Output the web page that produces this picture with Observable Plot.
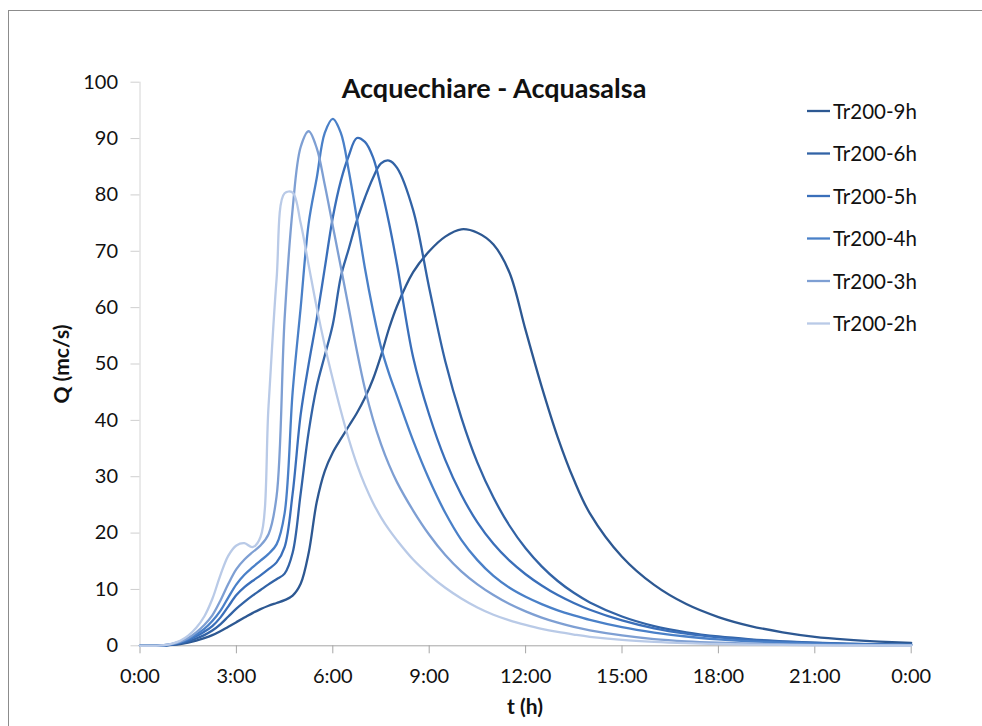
<!DOCTYPE html>
<html>
<head>
<meta charset="utf-8">
<script src="https://cdn.jsdelivr.net/npm/d3@7"></script>
<script src="https://cdn.jsdelivr.net/npm/@observablehq/plot@0.6"></script>
<style>
  html, body { margin: 0; padding: 0; background: #fff; overflow: hidden; }
  #wrap { position: relative; width: 982px; height: 726px; overflow: hidden; font-family: Lato, "Open Sans", sans-serif; }
  #frame { position: absolute; left: 8px; top: 10px; width: 1000px; height: 760px; border: 1px solid #8c8c8c; box-sizing: border-box; }
  #chart, #overlay { position: absolute; left: 0; top: 0; }
  #chart svg { font-family: Lato, "Open Sans", sans-serif; }
</style>
</head>
<body>
<div id="wrap">
  <div id="frame"></div>
  <div id="chart"></div>
  <svg id="overlay" width="982" height="726"></svg>
</div>
<script>
// Time (hours from start of event)
const hours = [0,0.25,0.5,0.75,1,1.25,1.5,1.75,2,2.25,2.5,2.75,3,3.25,3.5,3.75,4,4.25,4.5,4.75,5,5.25,5.5,5.75,6,6.25,6.5,6.75,7,7.25,7.5,7.75,8,
  8.5,9,9.5,10,10.5,11,11.5,12,12.5,13,13.5,14,
  15,16,17,18,19,20,21,22,23,24];

// Discharge Q (mc/s) for each design storm duration, return period 200 years
const q9h = [0,0,0,0.05,0.15,0.3,0.55,0.9,1.35,1.9,2.6,3.4,4.2,5.0,5.8,6.5,7.1,7.6,8.1,8.9,11,16.5,25.5,31,34.3,36.7,39,41.3,44,47.3,51.5,56.3,60.3,
  66.3,70,72.6,73.9,73.3,71.2,66.2,56,46,37,29.5,23.5,
  15.8,10.8,7.4,5.1,3.5,2.4,1.6,1.1,0.75,0.5];
const q6h = [0,0,0,0.05,0.2,0.45,0.8,1.3,1.9,2.7,3.8,5.2,6.6,7.8,8.9,9.9,10.9,11.8,12.8,16.5,27,38,46,51.5,57,65.5,70.5,75.5,79.5,83,85.6,86.1,84.8,
  77.3,63.5,50.5,40.5,32.5,26.3,21.3,17.3,14.1,11.5,9.4,7.7,
  5.2,3.5,2.4,1.65,1.15,0.8,0.55,0.4,0.28,0.2];
const q5h = [0,0,0,0.05,0.25,0.55,1.0,1.7,2.5,3.5,5.0,7.0,9.0,10.4,11.5,12.5,13.6,14.8,17.5,27,41,50,58,67,76,82.5,87,90.1,89.4,86.7,81.4,75,67.6,
  51.2,41,33,26.8,21.9,18.1,15.1,12.7,10.7,9.0,7.6,6.4,
  4.5,3.1,2.15,1.5,1.05,0.72,0.5,0.35,0.25,0.18];
const q4h = [0,0,0,0.1,0.3,0.65,1.2,2.0,3.0,4.4,6.2,8.6,10.9,12.6,13.9,15.1,16.3,18.0,23.5,45,60,75,83,91,93.5,91,84.2,75.8,67,59.5,53,48.3,44.3,
  36.4,29.5,23.6,18.8,15.2,12.4,10.3,8.7,7.4,6.3,5.4,4.6,
  3.3,2.35,1.65,1.15,0.8,0.55,0.4,0.28,0.2,0.15];
const q3h = [0,0,0,0.1,0.35,0.75,1.4,2.4,3.7,5.4,8.0,11.0,13.6,15.3,16.6,17.8,19.8,26.5,58,77.5,88.5,91.3,88.3,81.8,74.5,67.2,59.8,52.3,45.6,40.2,35.8,32.1,29.0,
  24.0,19.7,16.1,13.2,10.9,9.0,7.4,6.1,5.0,4.1,3.35,2.75,
  1.85,1.2,0.8,0.55,0.38,0.26,0.18,0.13,0.1,0.08];
const q2h = [0,0,0,0.1,0.4,0.9,1.8,3.2,5.2,8.3,12.5,16.0,17.8,18.2,17.5,19.3,42.5,65,80.3,80.4,75,67.5,60,53.3,47.3,41.7,36.6,32.2,28.5,25.4,22.8,20.6,18.7,
  15.3,12.6,10.3,8.4,6.8,5.5,4.5,3.7,3.0,2.45,2.0,1.6,
  1.05,0.7,0.47,0.32,0.22,0.15,0.1,0.08,0.06,0.05];

const seriesNames = ["Tr200-9h", "Tr200-6h", "Tr200-5h", "Tr200-4h", "Tr200-3h", "Tr200-2h"];
const seriesValues = [q9h, q6h, q5h, q4h, q3h, q2h];
const seriesColors = ["#2d5892", "#3263a6", "#3a6fba", "#4a80c8", "#7e9fd3", "#b9cae7"];

const yTicks = [0, 10, 20, 30, 40, 50, 60, 70, 80, 90, 100];
const xTicks = [0, 3, 6, 9, 12, 15, 18, 21, 24];

const titleText = "Acquechiare - Acquasalsa";
const xLabel = "t (h)";
const yLabel = "Q (mc/s)";

// Long-format rows for the line mark
const rows = seriesNames.flatMap((name, i) =>
  hours.map((t, j) => ({ series: name, t, q: seriesValues[i][j] }))
);

const chart = Plot.plot({
  width: 982,
  height: 726,
  marginLeft: 139.5,
  marginRight: 71.3,
  marginTop: 81.7,
  marginBottom: 80.7,
  style: { background: "transparent", color: "#111" },
  x: { domain: [0, 24] },
  y: { domain: [0, 100] },
  color: { domain: seriesNames, range: seriesColors },
  marks: [
    Plot.ruleX([0], { stroke: "#d4d4d4", strokeWidth: 1 }),
    Plot.axisY({
      ticks: yTicks, tickSize: 9, tickPadding: 13, fontSize: 20,
      stroke: "#cfcfcf", fill: "#111", label: null
    }),
    Plot.axisX({
      ticks: xTicks, tickSize: 8, tickPadding: 15, fontSize: 20,
      tickFormat: h => `${h % 24}:00`,
      stroke: "#a6a6a6", fill: "#111", label: null
    }),
    Plot.ruleY([0], { stroke: "#a6a6a6", strokeWidth: 1 }),
    Plot.line(rows, {
      x: "t", y: "q", z: "series", stroke: "series",
      strokeWidth: 2.3, curve: "catmull-rom"
    })
  ]
});
document.getElementById("chart").appendChild(chart);

// Title, axis titles and legend
const ov = d3.select("#overlay").style("font-family", "Lato, 'Open Sans', sans-serif");
ov.append("text").attr("x", 494).attr("y", 98).attr("text-anchor", "middle")
  .attr("font-size", 27).attr("font-weight", 700).attr("fill", "#111").text(titleText);
ov.append("text").attr("x", 525).attr("y", 714).attr("text-anchor", "middle")
  .attr("font-size", 21).attr("font-weight", 700).attr("fill", "#111").text(xLabel);
ov.append("text").attr("transform", "translate(69,364) rotate(-90)").attr("text-anchor", "middle")
  .attr("font-size", 21).attr("font-weight", 700).attr("fill", "#111").text(yLabel);

const legend = ov.append("g").attr("transform", "translate(807,111)");
seriesNames.forEach((name, i) => {
  const g = legend.append("g").attr("transform", `translate(0,${i * 42.5})`);
  g.append("line").attr("x1", 0).attr("x2", 23).attr("y1", 0).attr("y2", 0)
    .attr("stroke", seriesColors[i]).attr("stroke-width", 2.3);
  g.append("text").attr("x", 26).attr("y", 7.5).attr("font-size", 20.5)
    .attr("fill", "#111").text(name);
});
</script>
</body>
</html>
